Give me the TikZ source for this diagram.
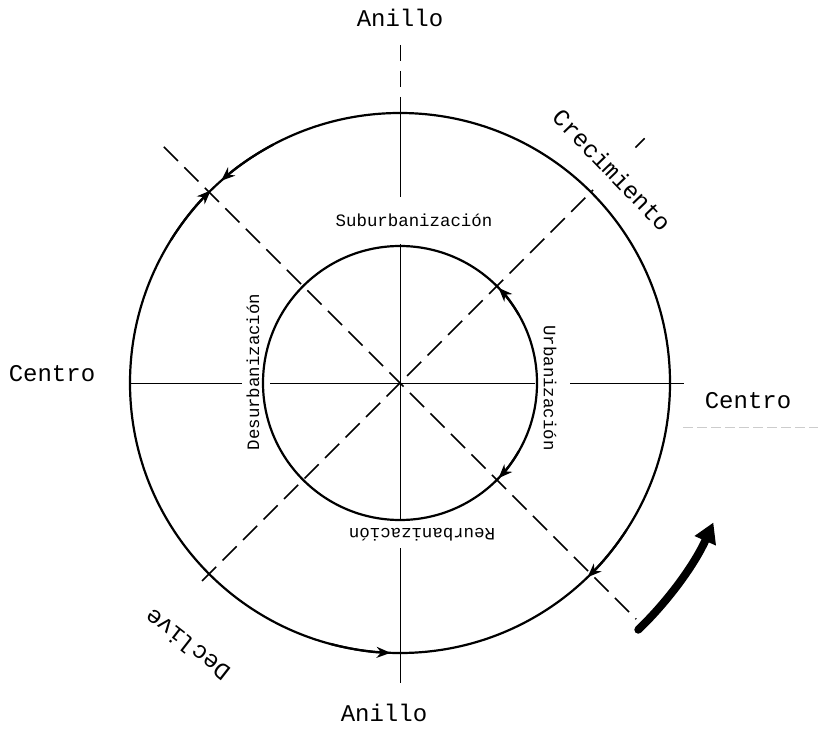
\documentclass[tikz,border=0pt]{standalone}
\usepackage{fontspec}
\setmonofont{Liberation Mono}
\usepackage{tikz}
\usetikzlibrary{arrows.meta}

\begin{document}
\begin{tikzpicture}[x=0.5pt, y=0.5pt,
  ring/.style={line width=1.1pt},
  axis/.style={line width=0.5pt},
  diag/.style={line width=0.8pt, dash pattern=on 10pt off 4.5pt},
  flow/.style={line width=1.1pt, -{Stealth[length=7pt, width=5.5pt]}},
  big/.style={font=\ttfamily\fontsize{12}{14}\selectfont},
  small/.style={font=\ttfamily\fontsize{8.7}{10}\selectfont}]
\useasboundingbox (0,0) rectangle (818,729);
\coordinate (c) at (400,346);

% circles
\draw[ring] (c) circle[radius=270];
\draw[ring] (c) circle[radius=137];

% axes, broken where the labels sit
\draw[axis, dash pattern=on 8pt off 5pt] (400,684) -- (400,616);
\draw[axis] (400,616) -- (400,532);
\draw[axis] (400,485) -- (400,209);
\draw[axis] (400,181) -- (400,46);
\draw[axis] (131,346) -- (242,346);
\draw[axis] (270,346) -- (535,346);
\draw[axis] (570,346) -- (684,346);
\draw[gray!40, line width=0.4pt, dash pattern=on 5pt off 2pt] (683,302) -- (818,302);

% diagonals
\draw[diag] (c) ++(135:334) -- ++(-45:668);
\draw[diag] (c) ++(225:280) -- ++(45:553);
\draw[diag] (c) ++(45:333) -- ++(45:13);

% arrows on the rings
\draw[flow] (c) ++(118:270) arc[start angle=118, end angle=131.5, radius=270];
\draw[flow] (c) ++(148:270) arc[start angle=148, end angle=134.5, radius=270];
\draw[flow] (c) ++(255:270) arc[start angle=255, end angle=268, radius=270];
\draw[flow] (c) ++(-33:270) arc[start angle=-33, end angle=-46, radius=270];
\draw[flow] (c) ++(30:137) arc[start angle=30, end angle=44, radius=137];
\draw[flow] (c) ++(-30:137) arc[start angle=-30, end angle=-44, radius=137];

% big arrow
\draw[line width=4pt, line cap=round, -{Triangle[length=10pt, width=11pt]}]
  (c) ++(-46:343) arc[start angle=-46, end angle=-24, radius=343];

% labels
\node[big] (anillotop) at (400,711) {Anillo};
\node[big] (anillobot) at (384,16) {Anillo};
\node[big] (centroleft) at (52,355) {Centro};
\node[big] (centroright) at (748,328) {Centro};
\node[big, rotate=-46] (crec) at (612,559) {Crecimiento};
\node[big, rotate=142] (decl) at (187,84) {Declive};
\node[small] (sub) at (414,509) {Suburbanización};
\node[small, rotate=-90] (urb) at (550,341) {Urbanización};
\node[small, rotate=90] (desurb) at (253,357) {Desurbanización};
\node[small, rotate=180] (reurb) at (422,194) {Reurbanización};
\end{tikzpicture}
\end{document}
